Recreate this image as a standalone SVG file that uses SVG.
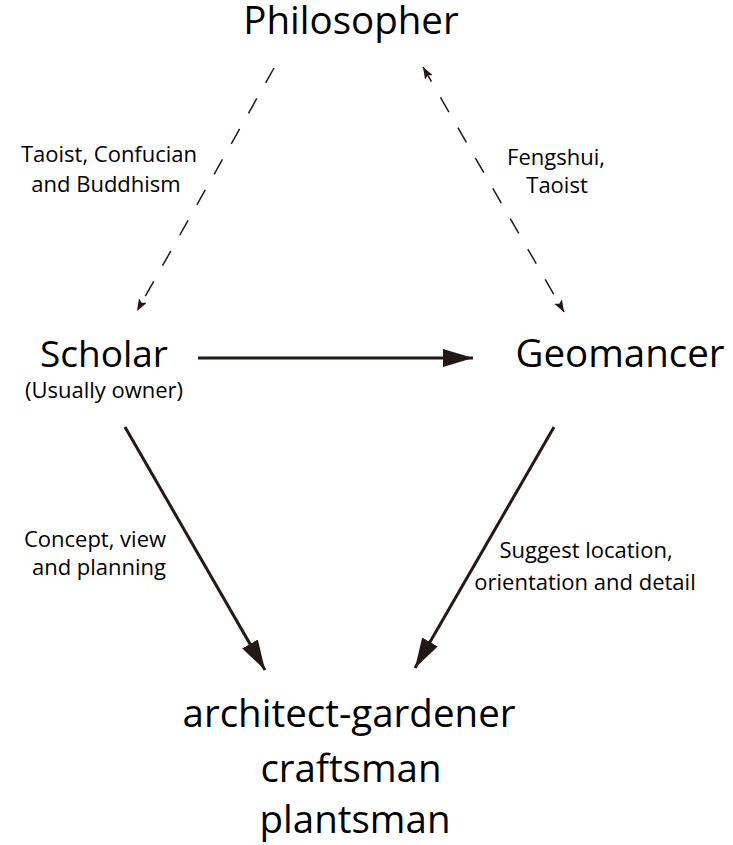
<svg xmlns="http://www.w3.org/2000/svg" width="733" height="845" viewBox="0 0 733 845">
<style>
text{font-family:"Open Sans","Noto Sans",sans-serif;fill:#000;text-anchor:middle}
.big{font-size:38.5px}
.sm{font-size:22px}
.dash{stroke:#231815;stroke-width:1.5;stroke-dasharray:17 18;fill:none}
.solid{stroke:#231815;stroke-width:3;fill:none}
</style>
<defs>
<marker id="ah" viewBox="0 0 12 9" refX="12" refY="4.5" markerWidth="12" markerHeight="9" markerUnits="userSpaceOnUse" orient="auto-start-reverse"><path d="M0,0 L12,4.5 L0,9 L2.5,4.5 Z" fill="#231815"/></marker>
<marker id="big" viewBox="0 0 30 18" refX="30" refY="9" markerWidth="30" markerHeight="18" markerUnits="userSpaceOnUse" orient="auto"><path d="M0,0 L30,9 L0,18 Z" fill="#231815"/></marker>
</defs>
<g id="connectors">
<line class="dash" x1="274" y1="68" x2="137" y2="311" marker-end="url(#ah)"/>
<line class="dash" x1="423" y1="67" x2="564" y2="312" marker-start="url(#ah)" marker-end="url(#ah)"/>
<line class="solid" x1="198" y1="358" x2="473" y2="358" marker-end="url(#big)"/>
<line class="solid" x1="125" y1="427" x2="265" y2="670" marker-end="url(#big)"/>
<line class="solid" x1="554" y1="427" x2="415" y2="668" marker-end="url(#big)"/>
</g>
<g id="philosopher"><text class="big" x="351" y="34">Philosopher</text></g>
<g id="scholar"><text x="104" y="367" style="font-size:37px">Scholar</text><text x="104" y="398" style="font-size:22px">(Usually owner)</text></g>
<g id="geomancer"><text class="big" x="620" y="367">Geomancer</text></g>
<g id="makers"><text class="big" x="349" y="727">architect-gardener</text><text class="big" x="351" y="782">craftsman</text><text class="big" x="355" y="833">plantsman</text></g>
<g id="labels">
<text class="sm" x="109" y="162">Taoist, Confucian</text>
<text class="sm" x="106" y="192">and Buddhism</text>
<text class="sm" x="556" y="165">Fengshui,</text>
<text class="sm" x="557" y="193">Taoist</text>
<text class="sm" x="95" y="547">Concept, view</text>
<text class="sm" x="99" y="575">and planning</text>
<text class="sm" x="586" y="558">Suggest location,</text>
<text class="sm" x="585" y="590">orientation and detail</text>
</g>
</svg>
